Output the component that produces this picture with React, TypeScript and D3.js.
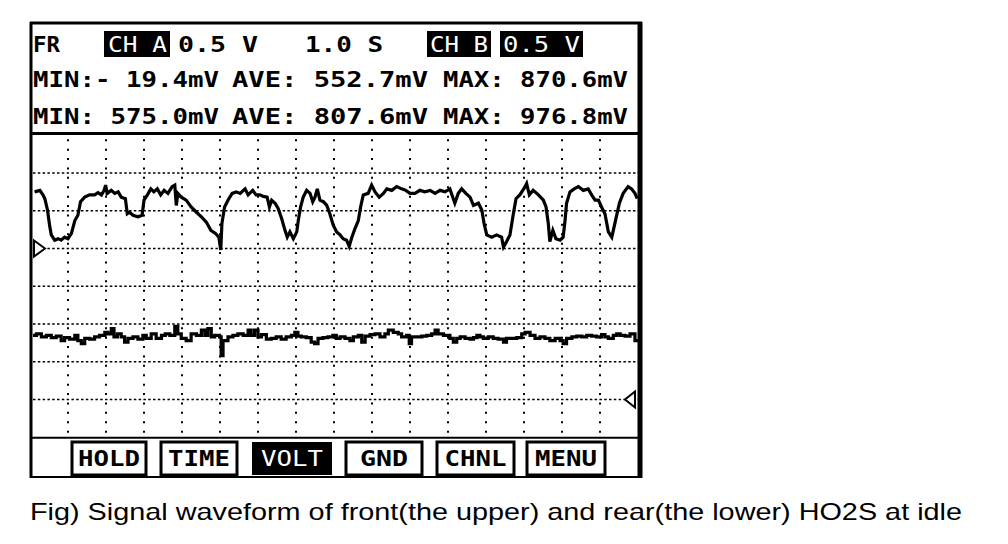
import * as d3 from "d3";

// CH A (front HO2S), seconds / volts
const frontTrace: [number, number][] = [
  [0.12, 0.75], [0.26, 0.77], [0.34, 0.71], [0.39, 0.66], [0.46, 0.51], [0.52, 0.29],
  [0.56, 0.18], [0.65, 0.11], [0.74, 0.13], [0.82, 0.11], [0.91, 0.15], [1.0, 0.13],
  [1.09, 0.2], [1.18, 0.37], [1.26, 0.44], [1.33, 0.62], [1.44, 0.68], [1.57, 0.71],
  [1.7, 0.71], [1.79, 0.74], [1.88, 0.71], [1.95, 0.77], [1.99, 0.84], [2.03, 0.73],
  [2.14, 0.77], [2.23, 0.73], [2.32, 0.75], [2.4, 0.68], [2.51, 0.66], [2.56, 0.46],
  [2.62, 0.48], [2.71, 0.44], [2.84, 0.42], [2.95, 0.44], [3.0, 0.64], [3.09, 0.71],
  [3.18, 0.79], [3.26, 0.75], [3.35, 0.79], [3.44, 0.71], [3.53, 0.77], [3.63, 0.73],
  [3.74, 0.82], [3.81, 0.84], [3.85, 0.57], [3.89, 0.73], [3.98, 0.68], [4.11, 0.64],
  [4.24, 0.55], [4.38, 0.48], [4.51, 0.42], [4.64, 0.35], [4.76, 0.24], [4.88, 0.2],
  [4.97, 0.15], [5.02, -0.02], [5.05, 0.33], [5.12, 0.55], [5.21, 0.64], [5.32, 0.73],
  [5.43, 0.75], [5.53, 0.73], [5.66, 0.79], [5.74, 0.71], [5.86, 0.77], [5.95, 0.71],
  [6.05, 0.71], [6.14, 0.69], [6.24, 0.68], [6.3, 0.55], [6.36, 0.64], [6.45, 0.6],
  [6.53, 0.53], [6.62, 0.4], [6.71, 0.24], [6.77, 0.15], [6.84, 0.22], [6.93, 0.13],
  [7.02, 0.22], [7.06, 0.37], [7.12, 0.55], [7.19, 0.68], [7.28, 0.77], [7.37, 0.73],
  [7.44, 0.62], [7.5, 0.68], [7.56, 0.79], [7.63, 0.64], [7.72, 0.62], [7.81, 0.57],
  [7.89, 0.46], [7.98, 0.31], [8.07, 0.22], [8.16, 0.18], [8.24, 0.13], [8.33, 0.11],
  [8.4, 0.03], [8.47, 0.15], [8.55, 0.26], [8.64, 0.37], [8.7, 0.55], [8.77, 0.71],
  [8.9, 0.73], [8.99, 0.84], [9.08, 0.75], [9.19, 0.68], [9.3, 0.73], [9.39, 0.79],
  [9.52, 0.77], [9.65, 0.82], [9.78, 0.79], [9.89, 0.77], [10.0, 0.73], [10.13, 0.73],
  [10.26, 0.77], [10.39, 0.75], [10.53, 0.77], [10.66, 0.73], [10.79, 0.77], [10.92, 0.75],
  [11.05, 0.79], [11.18, 0.6], [11.27, 0.73], [11.36, 0.79], [11.47, 0.73], [11.58, 0.68],
  [11.67, 0.57], [11.8, 0.6], [11.89, 0.51], [11.95, 0.33], [12.02, 0.18], [12.15, 0.15],
  [12.28, 0.18], [12.41, 0.15], [12.46, 0.02], [12.54, 0.09], [12.63, 0.18], [12.72, 0.46],
  [12.79, 0.66], [12.89, 0.71], [13.03, 0.82], [13.07, 0.86], [13.14, 0.71], [13.24, 0.77],
  [13.38, 0.71], [13.51, 0.64], [13.58, 0.55], [13.64, 0.33], [13.68, 0.09], [13.76, 0.24],
  [13.84, 0.13], [13.95, 0.11], [14.03, 0.15], [14.08, 0.37], [14.12, 0.6], [14.21, 0.75],
  [14.32, 0.79], [14.43, 0.82], [14.56, 0.77], [14.69, 0.79], [14.78, 0.71], [14.87, 0.64],
  [14.96, 0.64], [15.04, 0.55], [15.13, 0.46], [15.22, 0.22], [15.31, 0.15], [15.39, 0.33],
  [15.51, 0.6], [15.61, 0.73], [15.74, 0.82], [15.83, 0.79], [15.92, 0.73], [15.98, 0.66],
];

// CH B (rear HO2S)
const rearTrace: [number, number][] = [
  [0.08, 0.85], [0.17, 0.87], [0.3, 0.83], [0.43, 0.85], [0.56, 0.82], [0.69, 0.84],
  [0.82, 0.78], [0.91, 0.82], [1.04, 0.8], [1.18, 0.85], [1.26, 0.78], [1.35, 0.74],
  [1.44, 0.81], [1.57, 0.8], [1.7, 0.83], [1.83, 0.85], [1.97, 0.89], [2.05, 0.87],
  [2.14, 0.94], [2.21, 0.83], [2.3, 0.87], [2.4, 0.83], [2.49, 0.76], [2.58, 0.81],
  [2.71, 0.83], [2.84, 0.8], [2.97, 0.85], [3.06, 0.81], [3.19, 0.87], [3.32, 0.81],
  [3.46, 0.85], [3.56, 0.87], [3.68, 0.85], [3.81, 0.97], [3.89, 0.87], [3.98, 0.81],
  [4.11, 0.78], [4.24, 0.87], [4.38, 0.85], [4.51, 0.92], [4.6, 0.85], [4.68, 0.94],
  [4.77, 0.83], [4.86, 0.85], [4.99, 0.83], [5.03, 0.58], [5.08, 0.78], [5.21, 0.83],
  [5.34, 0.85], [5.47, 0.87], [5.61, 0.85], [5.74, 0.92], [5.82, 0.85], [5.91, 0.92],
  [6.0, 0.83], [6.09, 0.86], [6.22, 0.8], [6.35, 0.81], [6.48, 0.83], [6.61, 0.8],
  [6.74, 0.83], [6.88, 0.85], [6.97, 0.89], [7.05, 0.84], [7.14, 0.83], [7.27, 0.82],
  [7.4, 0.76], [7.49, 0.74], [7.58, 0.81], [7.71, 0.82], [7.84, 0.83], [7.97, 0.85],
  [8.06, 0.81], [8.16, 0.83], [8.29, 0.81], [8.42, 0.78], [8.51, 0.83], [8.64, 0.85],
  [8.73, 0.76], [8.82, 0.84], [8.95, 0.86], [9.08, 0.87], [9.21, 0.83], [9.34, 0.87],
  [9.43, 0.92], [9.56, 0.89], [9.69, 0.87], [9.78, 0.83], [9.91, 0.85], [9.98, 0.74],
  [10.04, 0.83], [10.18, 0.83], [10.31, 0.84], [10.44, 0.85], [10.57, 0.87], [10.66, 0.92],
  [10.74, 0.87], [10.88, 0.85], [10.97, 0.85], [11.05, 0.81], [11.14, 0.76], [11.23, 0.81],
  [11.32, 0.83], [11.45, 0.81], [11.58, 0.8], [11.67, 0.82], [11.76, 0.85], [11.84, 0.83],
  [11.93, 0.81], [12.06, 0.83], [12.19, 0.81], [12.32, 0.8], [12.46, 0.76], [12.54, 0.81],
  [12.68, 0.81], [12.81, 0.82], [12.94, 0.87], [13.03, 0.89], [13.16, 0.85], [13.29, 0.81],
  [13.42, 0.83], [13.55, 0.81], [13.68, 0.78], [13.82, 0.81], [13.95, 0.78], [14.03, 0.74],
  [14.12, 0.81], [14.26, 0.83], [14.39, 0.84], [14.52, 0.83], [14.65, 0.85], [14.78, 0.84],
  [14.91, 0.83], [15.04, 0.86], [15.13, 0.83], [15.22, 0.81], [15.35, 0.85], [15.44, 0.87],
  [15.53, 0.85], [15.66, 0.84], [15.79, 0.87], [15.92, 0.78], [16.0, 0.76],
];

const statLabels = ["MIN:", "AVE:", "MAX:"];
const chAStats = ["- 19.4mV", " 552.7mV", " 870.6mV"];
const chBStats = [" 575.0mV", " 807.6mV", " 976.8mV"];
const buttonLabels = ["HOLD", "TIME", "VOLT", "GND", "CHNL", "MENU"];
const activeButton = "VOLT";
const caption =
  "Fig) Signal waveform of front(the upper) and rear(the lower) HO2S at idle";

const W = 1008;
const H = 544;
const plot = { left: 30, right: 638, top: 135.25, bottom: 437.25 };
const mono = "'DejaVu Sans Mono', monospace";

export default function App() {
  const x = d3.scaleLinear().domain([0, 16]).range([plot.left, plot.right]);
  // 0.5 V/div, 8 divisions; CH A ground 5 div from bottom, CH B 1 div from bottom
  const yA = d3.scaleLinear().domain([-2.5, 1.5]).range([plot.bottom, plot.top]);
  const yB = d3.scaleLinear().domain([-0.5, 3.5]).range([plot.bottom, plot.top]);
  const div = d3.scaleLinear().domain([0, 8]).range([plot.top, plot.bottom]);

  const lineA = d3.line<[number, number]>().x((d) => x(d[0])).y((d) => yA(d[1]));
  const lineB = d3
    .line<[number, number]>()
    .x((d) => x(d[0]))
    .y((d) => yB(d[1]))
    .curve(d3.curveStepAfter);

  const vTicks = d3.range(1, 16);
  const hTicks = d3.range(1, 8);

  const statStarts = [33, 232, 443];
  const statEnds = [219, 428, 628];
  const buttonX = [72, 161, 252, 346, 437, 527];
  const buttonW = [74, 76, 80, 76, 77, 78];

  const gA = yA(0);
  const gB = yB(0);

  return (
    <svg
      width={W}
      height={H}
      style={{ position: "absolute", left: 0, top: 0, background: "#fff" }}
    >
      <defs>
        <clipPath id="plotClip">
          <rect x={plot.left} y={plot.top} width={plot.right - plot.left} height={plot.bottom - plot.top} />
        </clipPath>
      </defs>

      {/* grid */}
      <g stroke="#000" strokeWidth={2}>
        {vTicks.map((t) => (
          <line key={"v" + t} x1={x(t)} x2={x(t)} y1={plot.top + 4} y2={plot.bottom}
            strokeDasharray="2 7.4" />
        ))}
        {hTicks.map((d) => (
          <line key={"h" + d} x1={plot.left + 3} x2={plot.right} y1={div(d)} y2={div(d)}
            strokeDasharray="2.5 2.3" strokeWidth={1.6} />
        ))}
      </g>

      {/* traces */}
      <g clipPath="url(#plotClip)" fill="none" stroke="#000" strokeWidth={3.2} strokeLinejoin="miter">
        <path d={lineA(frontTrace) || ""} />
        <path d={lineB(rearTrace) || ""} />
      </g>

      {/* ground markers */}
      <path d={`M${plot.left + 4},${gA - 8} L${plot.left + 15},${gA} L${plot.left + 4},${gA + 8} Z`}
        fill="#fff" stroke="#000" strokeWidth={2} />
      <path d={`M${plot.right - 3},${gB - 8} L${plot.right - 13},${gB} L${plot.right - 3},${gB + 8} Z`}
        fill="#fff" stroke="#000" strokeWidth={2} />

      {/* frame */}
      <g stroke="#000" fill="none">
        <line x1={31} x2={31} y1={22} y2={478} strokeWidth={3} />
        <line x1={640} x2={640} y1={22} y2={478} strokeWidth={5} />
        <line x1={30} x2={642} y1={23} y2={23} strokeWidth={3} />
        <line x1={30} x2={642} y1={133.5} y2={133.5} strokeWidth={3} />
        <line x1={30} x2={642} y1={plot.bottom + 0.5} y2={plot.bottom + 0.5} strokeWidth={2} />
        <line x1={30} x2={642} y1={477} y2={477} strokeWidth={2} />
      </g>

      {/* header row 1 */}
      <g fontFamily={mono} fontSize={22} fontWeight="bold">
        <text x={33} y={52} textLength={27} lengthAdjust="spacingAndGlyphs">FR</text>
        <rect x={104} y={31} width={66} height={26} fill="#000" />
        <text x={108} y={52} fill="#fff" fontWeight="normal" textLength={59} lengthAdjust="spacingAndGlyphs">CH A</text>
        <text x={178} y={52} textLength={80} lengthAdjust="spacingAndGlyphs">0.5 V</text>
        <text x={305} y={52} textLength={78} lengthAdjust="spacingAndGlyphs">1.0 S</text>
        <rect x={427} y={31} width={64} height={26} fill="#000" />
        <text x={430} y={52} fill="#fff" fontWeight="normal" textLength={58} lengthAdjust="spacingAndGlyphs">CH B</text>
        <rect x={500} y={31} width={83} height={26} fill="#000" />
        <text x={503} y={52} fill="#fff" fontWeight="normal" textLength={77} lengthAdjust="spacingAndGlyphs">0.5 V</text>

        {[chAStats, chBStats].map((row, r) =>
          row.map((v, i) => (
            <text key={`${r}-${i}`} x={statStarts[i]} y={r === 0 ? 87 : 124}
              textLength={statEnds[i] - statStarts[i]} lengthAdjust="spacingAndGlyphs"
              xmlSpace="preserve" style={{ whiteSpace: "pre" }}>
              {statLabels[i] + v}
            </text>
          ))
        )}
      </g>

      {/* soft buttons */}
      <g fontFamily={mono} fontSize={21} fontWeight="bold">
        {buttonLabels.map((b, i) => {
          const active = b === activeButton;
          const w = buttonW[i];
          return (
            <g key={b}>
              <rect x={buttonX[i]} y={442} width={w} height={33}
                fill={active ? "#000" : "#fff"} stroke="#000" strokeWidth={active ? 0 : 3} />
              <text x={buttonX[i] + w / 2} y={466} textAnchor="middle"
                fill={active ? "#fff" : "#000"} fontWeight={active ? "normal" : "bold"}
                textLength={b.length === 3 ? 48 : 62} lengthAdjust="spacingAndGlyphs">
                {b}
              </text>
            </g>
          );
        })}
      </g>

      <text x={30} y={520} fontFamily="'Liberation Sans', Arial, sans-serif" fontSize={24}
        textLength={932} lengthAdjust="spacingAndGlyphs">
        {caption}
      </text>
    </svg>
  );
}
